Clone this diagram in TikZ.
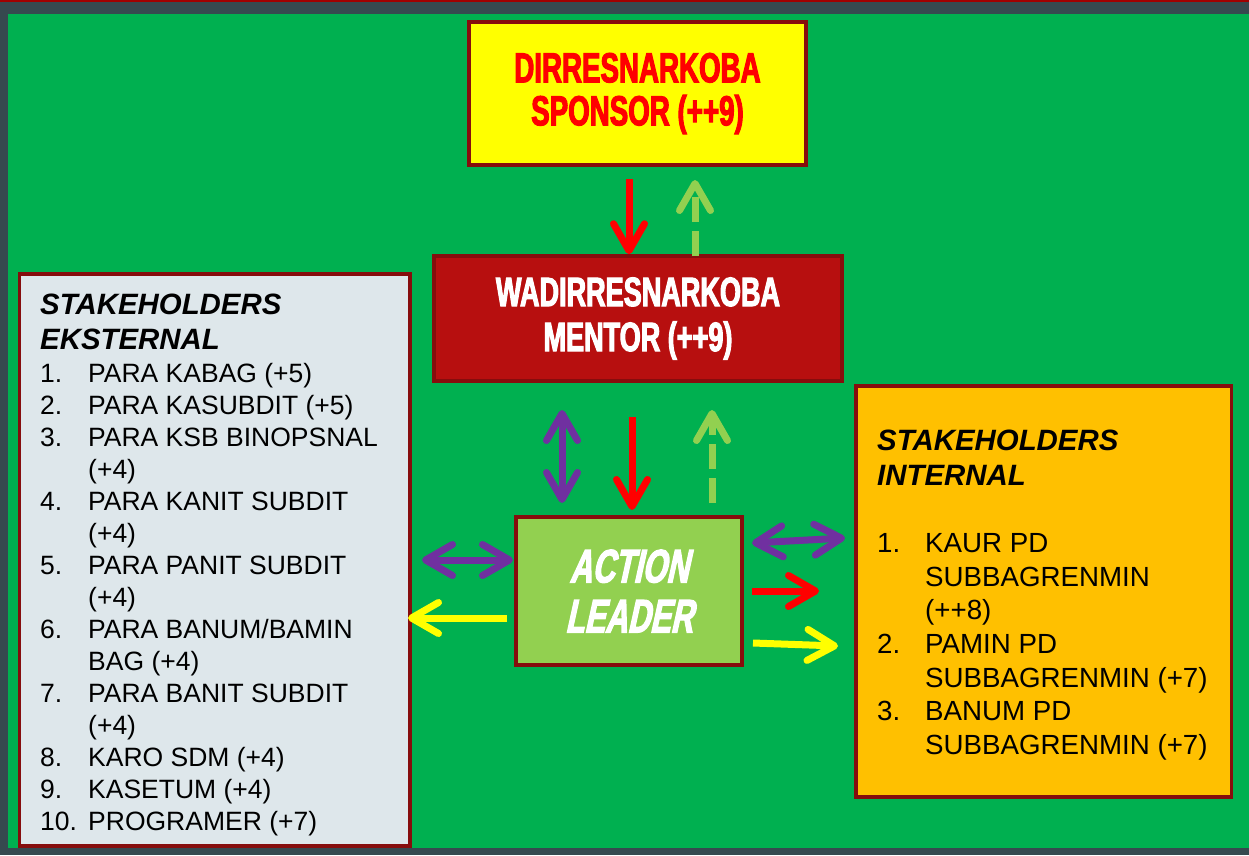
\documentclass[tikz,border=0pt]{standalone}
\usepackage{fontspec}
\setmainfont{Liberation Sans}
\newfontfamily\impactfont[FakeStretch=0.66,FakeBold=2.5]{Liberation Sans}
\newfontfamily\actionfont[FakeStretch=0.66,FakeBold=2.5,FakeSlant=0.22]{Liberation Sans}
\usetikzlibrary{arrows.meta,calc}
\definecolor{framec}{HTML}{36494F}
\definecolor{topline}{HTML}{A00000}
\definecolor{bggreen}{HTML}{00B050}
\definecolor{bord}{HTML}{860D0D}
\definecolor{wadirfill}{HTML}{B70F0F}
\definecolor{extfill}{HTML}{DEE7EB}
\definecolor{intfill}{HTML}{FFC000}
\definecolor{yellowc}{HTML}{FFFF00}
\definecolor{redc}{HTML}{FF0000}
\definecolor{lgreen}{HTML}{92D050}
\definecolor{purplec}{HTML}{7030A0}
\newcommand{\lfnt}{\fontsize{26.5}{32}\selectfont}
\newcommand{\rfnt}{\fontsize{27.7}{33.7}\selectfont}
\newcommand{\hdfnt}{\fontsize{29.4}{35}\selectfont\bfseries\itshape}
\newcommand{\topfnt}{\impactfont\bfseries\fontsize{42}{43}\selectfont}
\newcommand{\wadfnt}{\impactfont\bfseries\fontsize{41}{45}\selectfont}
\newcommand{\actfnt}{\actionfont\bfseries\fontsize{47}{50}\selectfont}
\begin{document}
\begin{tikzpicture}[x=1pt,y=-1pt,
  box/.style={draw=bord, line width=3.5pt, inner sep=0pt, anchor=center},
  single/.style={line width=7pt, -{Straight Barb[length=27pt,width=31pt,round]}},
  double/.style={line width=7pt, {Straight Barb[length=27pt,width=31pt,round]}-{Straight Barb[length=27pt,width=31pt,round]}},
  dashgreen/.style={single, lgreen, dash pattern=on 25pt off 9pt}
]
\useasboundingbox (0,0) rectangle (1249,855);
% frame and background
\fill[framec] (0,0) rectangle (1249,855);
\fill[topline] (0,0) rectangle (1249,2);
\fill[bggreen] (8,14) rectangle (1249,848);

% boxes
\node[box, fill=yellowc, minimum width=337pt, minimum height=143pt,
      font=\topfnt, text=redc, align=center] (spon) at (637.5,93.5)
      {DIRRESNARKOBA\\SPONSOR (++9)};
\node[box, fill=wadirfill, minimum width=408pt, minimum height=125pt,
      font=\wadfnt, text=white, align=center] (wadir) at (638,318.5)
      {WADIRRESNARKOBA\\MENTOR (++9)};
\node[box, fill=lgreen, minimum width=226pt, minimum height=148pt,
      font=\actfnt, text=white, align=center] (act) at (629,591)
      {ACTION\\LEADER};
\node[box, fill=extfill, minimum width=390.5pt, minimum height=572pt] (ext) at (214.75,560) {};
\node[box, fill=intfill, minimum width=375.5pt, minimum height=411pt] (int) at (1043.75,591.5) {};

% list texts
\node[anchor=base west, inner sep=0pt, font=\lfnt, align=left] (exttext) at (40,314) {%
\begin{tabular}[t]{@{}p{48pt}@{}l@{}}
\multicolumn{2}{@{}l@{}}{\hdfnt STAKEHOLDERS}\\[3pt]
\multicolumn{2}{@{}l@{}}{\hdfnt EKSTERNAL}\\[1pt]
1. & PARA KABAG (+5)\\
2. & PARA KASUBDIT (+5)\\
3. & PARA KSB BINOPSNAL\\
   & (+4)\\
4. & PARA KANIT SUBDIT\\
   & (+4)\\
5. & PARA PANIT SUBDIT\\
   & (+4)\\
6. & PARA BANUM/BAMIN\\
   & BAG (+4)\\
7. & PARA BANIT SUBDIT\\
   & (+4)\\
8. & KARO SDM (+4)\\
9. & KASETUM (+4)\\
10. & PROGRAMER (+7)
\end{tabular}};

\node[anchor=base west, inner sep=0pt, font=\rfnt, align=left] (inttext) at (877,450) {%
\begin{tabular}[t]{@{}p{48pt}@{}l@{}}
\multicolumn{2}{@{}l@{}}{\hdfnt STAKEHOLDERS}\\[1.3pt]
\multicolumn{2}{@{}l@{}}{\hdfnt INTERNAL}\\
 & \\
1. & KAUR PD\\
   & SUBBAGRENMIN\\
   & (++8)\\
2. & PAMIN PD\\
   & SUBBAGRENMIN (+7)\\
3. & BANUM PD\\
   & SUBBAGRENMIN (+7)
\end{tabular}};

% arrow end points
\coordinate (r1s) at (629,179);
\coordinate (g1s) at (695,256);
\coordinate (g1e) at (695,180);
\coordinate (p1s) at (562,410);
\coordinate (p1e) at (562,503);
\coordinate (r2s) at (632,417);
\coordinate (r2e) at (632,510);
\coordinate (g2s) at (712,503);
\coordinate (g2e) at (712,410);
\coordinate (p2s) at (422,560);
\coordinate (p2e) at (513,560);
\coordinate (y1s) at (507,618);
\coordinate (y1e) at (408,618);
\coordinate (p3s) at (752,543);
\coordinate (p3e) at (845,538);
\coordinate (r3s) at (752,591);
\coordinate (r3e) at (819,591);
\coordinate (y2s) at (753,643);
\coordinate (y2e) at (838,646);

% arrows
\draw[single, redc] (r1s) -- (r1s |- wadir.north);
\draw[dashgreen] (g1s) -- (g1e);
\draw[double, purplec] (p1s) -- (p1e);
\draw[single, redc] (r2s) -- (r2e);
\draw[dashgreen] (g2s) -- (g2e);
\draw[double, purplec] (p2s) -- (p2e);
\draw[single, yellowc] (y1s) -- (y1e);
\draw[double, purplec] (p3s) -- (p3e);
\draw[single, redc] (r3s) -- (r3e);
\draw[single, yellowc] (y2s) -- (y2e);
\end{tikzpicture}
\end{document}
